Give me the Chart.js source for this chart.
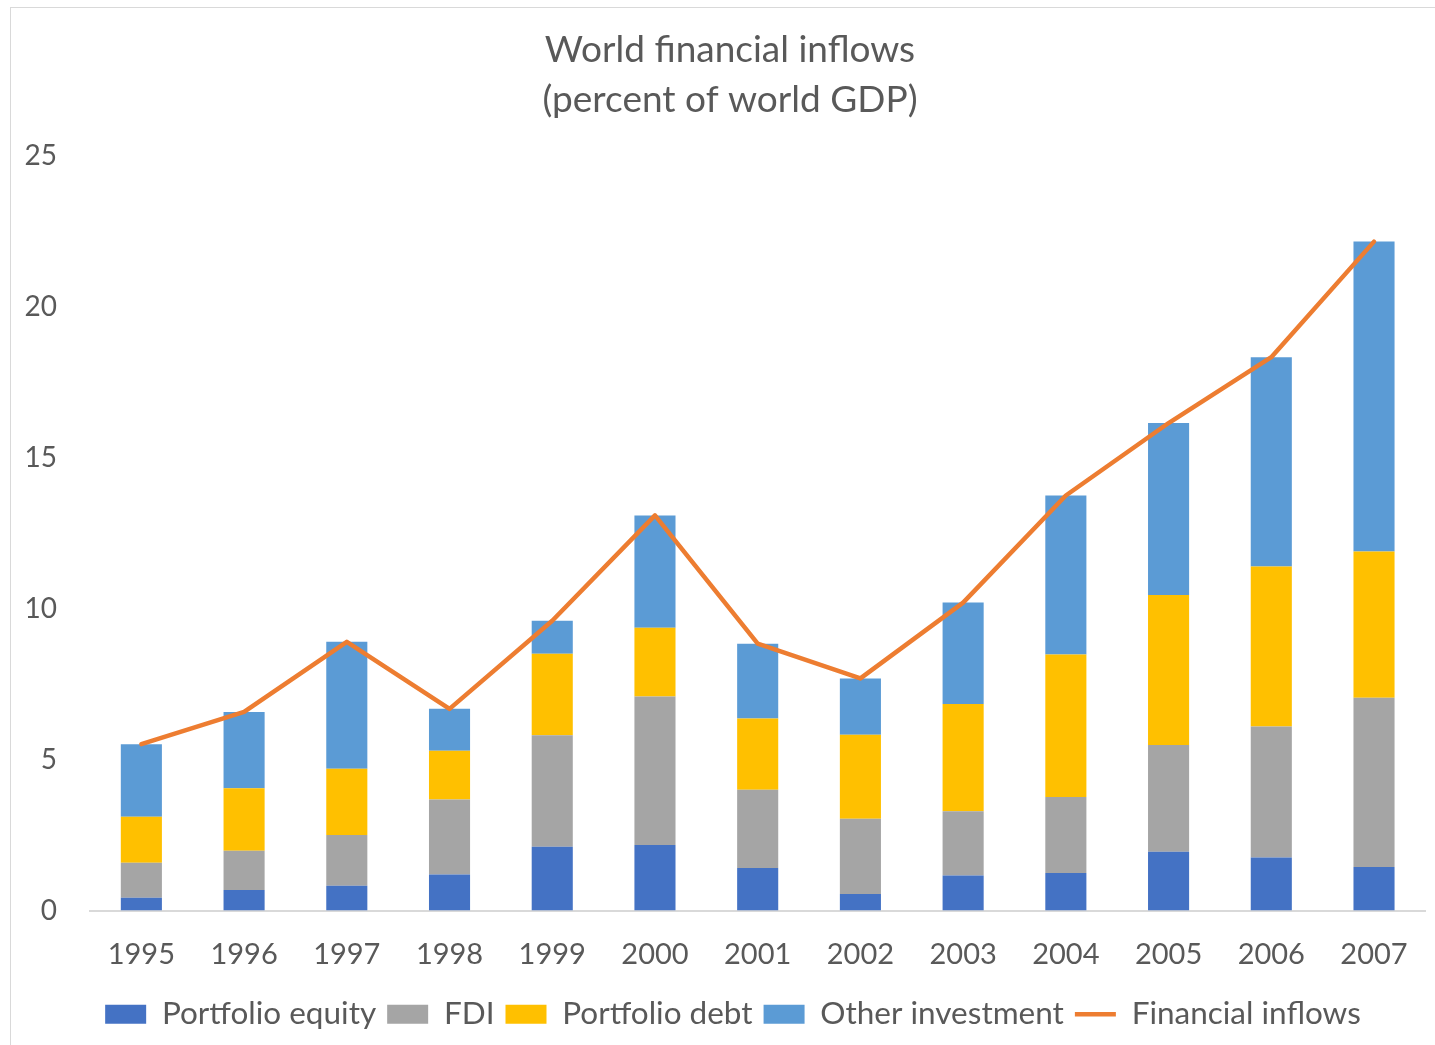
<!DOCTYPE html>
<html>
<head>
<meta charset="utf-8">
<script src="https://cdn.jsdelivr.net/npm/chart.js@4.4.1/dist/chart.umd.min.js"></script>
<style>
  html, body { margin: 0; padding: 0; background: #fff; overflow: hidden; }
  #frame {
    position: absolute; left: 10px; top: 7px; width: 1500px; height: 1100px;
    border-left: 1.5px solid #d9d9d9; border-top: 1.5px solid #d9d9d9;
  }
  #chart { position: absolute; left: 0; top: 0; }
</style>
</head>
<body>
<div id="frame"></div>
<canvas id="chart" width="1435" height="1045"></canvas>
<script>
const years = ['1995', '1996', '1997', '1998', '1999', '2000', '2001', '2002', '2003', '2004', '2005', '2006', '2007'];

// shares of world GDP, stacked bottom to top
const portfolioEquity = [0.42, 0.68, 0.82, 1.19, 2.11, 2.17, 1.41, 0.55, 1.16, 1.24, 1.95, 1.76, 1.44];
const fdi             = [1.16, 1.30, 1.68, 2.49, 3.70, 4.92, 2.59, 2.49, 2.13, 2.52, 3.53, 4.34, 5.61];
const portfolioDebt   = [1.53, 2.07, 2.20, 1.61, 2.70, 2.28, 2.36, 2.78, 3.55, 4.72, 4.97, 5.30, 4.84];
const otherInvestment = [2.40, 2.53, 4.20, 1.39, 1.09, 3.72, 2.48, 1.87, 3.36, 5.27, 5.70, 6.93, 10.27];
const financialInflows = [5.51, 6.58, 8.90, 6.68, 9.60, 13.09, 8.84, 7.69, 10.20, 13.75, 16.15, 18.33, 22.16];

const yTicks = [0, 5, 10, 15, 20, 25];

const textColor = '#595959';
const fontFamily = 'Lato, "Open Sans", sans-serif';

const bar = (label, data, color) => ({
  type: 'bar',
  label,
  data,
  backgroundColor: color,
  borderWidth: 0,
  stack: 'inflows',
  order: 1,
  barPercentage: 0.4,
  categoryPercentage: 1.0
});

// title and legend sit a little right of the canvas centre
const nudgeBoxes = {
  id: 'nudgeBoxes',
  afterLayout(chart) {
    const shift = (box, dx) => { if (box) { box.left += dx; box.right += dx; } };
    shift(chart.titleBlock, 17);
    shift(chart.legend, 20);
  }
};

const ctx = document.getElementById('chart').getContext('2d');
new Chart(ctx, {
  data: {
    labels: years,
    datasets: [
      bar('Portfolio equity', portfolioEquity, '#4472C4'),
      bar('FDI', fdi, '#A5A5A5'),
      bar('Portfolio debt', portfolioDebt, '#FFC000'),
      bar('Other investment', otherInvestment, '#5B9BD5'),
      {
        type: 'line',
        label: 'Financial inflows',
        data: financialInflows,
        borderColor: '#ED7D31',
        backgroundColor: '#ED7D31',
        borderWidth: 4.5,
        borderCapStyle: 'round',
        borderJoinStyle: 'round',
        pointRadius: 0,
        tension: 0,
        stack: 'total',
        order: 0
      }
    ]
  },
  plugins: [nudgeBoxes],
  options: {
    responsive: false,
    animation: false,
    devicePixelRatio: 1,
    layout: { padding: { left: 0, right: 9, top: 0, bottom: 5 } },
    scales: {
      x: {
        stacked: true,
        grid: { display: false, drawTicks: false },
        border: { display: true, color: '#d9d9d9', width: 2 },
        ticks: { color: textColor, font: { family: fontFamily, size: 29 }, padding: 27, maxRotation: 0 },
        afterFit: (scale) => { scale.height = 77; }
      },
      y: {
        stacked: true,
        min: 0,
        max: 25,
        grid: { display: false, drawTicks: false },
        border: { display: false },
        afterBuildTicks: (scale) => { scale.ticks = yTicks.map(v => ({ value: v })); },
        ticks: { color: textColor, font: { family: fontFamily, size: 28 }, padding: 33 },
        afterFit: (scale) => { scale.width = 90; }
      }
    },
    plugins: {
      tooltip: { enabled: false },
      title: {
        display: true,
        text: ['World financial inflows', '(percent of world GDP)'],
        color: textColor,
        font: { family: fontFamily, size: 37, weight: 'normal', lineHeight: 1.35 },
        padding: { top: 25, bottom: 31 }
      },
      legend: {
        position: 'bottom',
        labels: {
          color: textColor,
          font: { family: fontFamily, size: 31.5 },
          usePointStyle: true,
          pointStyleWidth: 41,
          boxHeight: 19,
          padding: 11,
          generateLabels: (chart) => {
            const items = Chart.defaults.plugins.legend.labels.generateLabels(chart);
            items.forEach(it => {
              it.pointStyle = chart.data.datasets[it.datasetIndex].type === 'line' ? 'line' : 'rect';
            });
            return items.sort((a, b) => a.datasetIndex - b.datasetIndex);
          }
        }
      }
    }
  }
});
</script>
</body>
</html>
